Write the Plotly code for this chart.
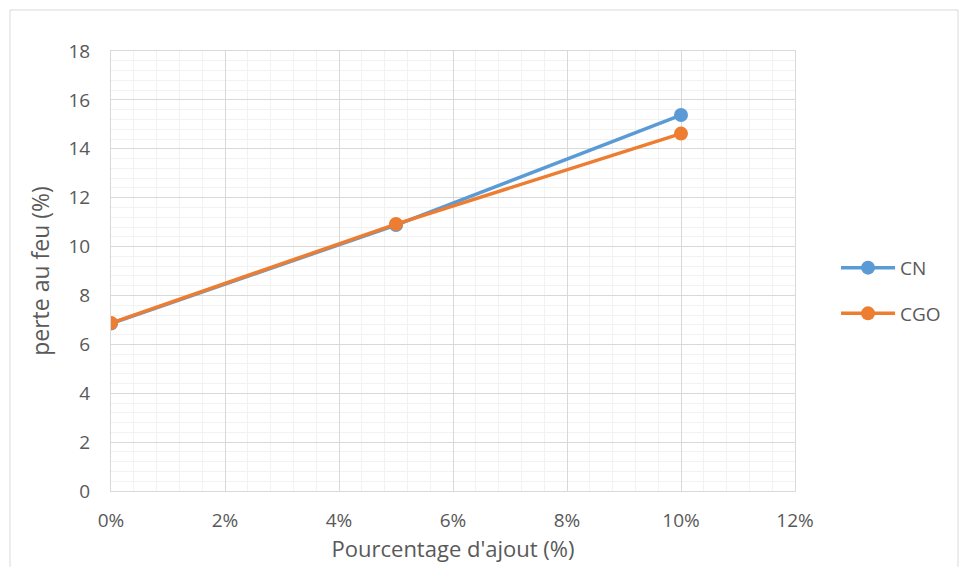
import plotly.graph_objects as go

x_vals = [0.0, 0.05, 0.10]
cn_vals = [6.85, 10.88, 15.38]
cgo_vals = [6.87, 10.92, 14.62]
series_names = ["CN", "CGO"]
colors = ["#5B9BD5", "#ED7D31"]

fig = go.Figure()
for name, vals, c in zip(series_names, [cn_vals, cgo_vals], colors):
    fig.add_trace(go.Scatter(x=x_vals, y=vals, mode="lines+markers", name=name,
                             legendgroup=name,
                             line=dict(color=c, width=3.5),
                             marker=dict(color=c, size=14)))

font_fam = "Open Sans, Liberation Sans, sans-serif"
fig.update_layout(
    width=959, height=567,
    margin=dict(l=111, r=164, t=51, b=76),
    paper_bgcolor="white", plot_bgcolor="white",
    font=dict(family=font_fam, color="#595959", size=19),
    showlegend=True,
    legend=dict(x=1.06, y=0.455, xanchor="left", yanchor="middle",
                font=dict(size=19, color="#595959"), tracegroupgap=18,
                itemwidth=54),
    xaxis=dict(range=[0, 0.12], dtick=0.02, tick0=0, tickformat=".0%",
               showgrid=True, gridcolor="#D9D9D9", gridwidth=1,
               minor=dict(dtick=0.004, showgrid=True, gridcolor="#F2F2F2", gridwidth=1),
               showline=True, linecolor="#D9D9D9", linewidth=1, mirror=True,
               zeroline=False, ticks="", ticklabelstandoff=12,
               tickfont=dict(size=19),
               title=dict(text="Pourcentage d'ajout (%)", font=dict(size=22, color="#595959"), standoff=4)),
    yaxis=dict(range=[0, 18], dtick=2, tick0=0,
               showgrid=True, gridcolor="#D9D9D9", gridwidth=1,
               minor=dict(dtick=0.4, showgrid=True, gridcolor="#F2F2F2", gridwidth=1),
               showline=True, linecolor="#D9D9D9", linewidth=1, mirror=True,
               zeroline=False, ticks="", ticklabelstandoff=16,
               tickfont=dict(size=19),
               title=dict(text="perte au feu (%)", font=dict(size=23, color="#595959"), standoff=12)),
)
fig.add_shape(type="rect", xref="paper", yref="paper",
              x0=-101/684, x1=(958-111)/684, y0=-1.0, y1=(491-10)/440,
              line=dict(color="#D9D9D9", width=1), fillcolor="rgba(0,0,0,0)", layer="below")
fig.write_html("out.html", config={"displayModeBar": False},
               post_script="document.body.style.margin='0';document.body.style.padding='0';")
